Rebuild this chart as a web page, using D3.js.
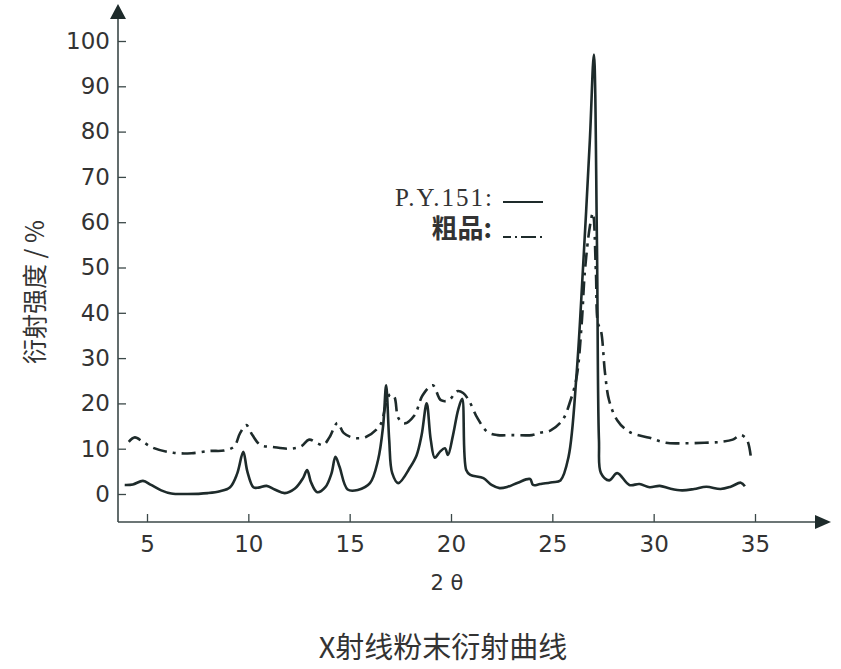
<!DOCTYPE html>
<html>
<head>
<meta charset="utf-8">
<script src="https://cdn.jsdelivr.net/npm/d3@7"></script>
<style>
  body { margin: 0; background: #ffffff; }
  svg text { fill: #333333; }
</style>
</head>
<body>
<div id="chart"></div>
<script>
// x-ray powder diffraction, P.Y.151 vs crude product

var xTicks = [5, 10, 15, 20, 25, 30, 35];
var yTicks = [0, 10, 20, 30, 40, 50, 60, 70, 80, 90, 100];

// P.Y.151 (solid line)
var pyTheta = [3.9, 4.3, 4.8, 5.2, 5.7, 6.2, 7.0, 8.0, 8.6, 9.1, 9.45, 9.75, 9.95, 10.25, 10.5, 10.9, 11.3, 11.8,
    12.3, 12.7, 12.9, 13.1, 13.4, 13.8, 14.1, 14.3, 14.5, 14.9, 15.4, 16.0, 16.4, 16.65, 16.8, 16.95, 17.1, 17.4,
    18.0, 18.3, 18.55, 18.8, 19.0, 19.2, 19.45, 19.7, 19.85, 20.1, 20.35, 20.55, 20.75, 20.95, 21.6, 22.0, 22.4,
    22.8, 23.3, 23.9, 24.05, 24.4, 25.0, 25.4, 25.8, 26.2, 26.5, 26.85, 27.05, 27.2, 27.3, 27.4, 27.8, 28.2, 28.8,
    29.3, 29.8, 30.3, 30.8, 31.4, 32.0, 32.6, 33.3, 33.8, 34.3, 34.5];
var pyIntensity = [2.0, 2.1, 2.9, 2.0, 0.8, 0.1, 0.0, 0.2, 0.6, 1.5, 4.5, 9.3, 5.0, 1.5, 1.4, 1.8, 1.0, 0.2,
    1.2, 3.5, 5.3, 2.5, 0.4, 1.5, 4.5, 8.2, 6.0, 1.0, 0.9, 2.4, 7.5, 15.0, 24.0, 12.0, 4.6, 2.4,
    6.0, 8.5, 13.0, 20.0, 12.0, 8.0, 9.3, 10.1, 8.6, 13.0, 18.5, 21.0, 5.3, 4.2, 3.5, 2.0, 1.3,
    1.6, 2.5, 3.3, 2.0, 2.2, 2.6, 3.0, 8.2, 26.7, 48.8, 78.0, 97.0, 56.0, 12.0, 4.6, 3.0, 4.6, 2.0,
    2.2, 1.5, 1.8, 1.2, 0.8, 1.1, 1.6, 1.1, 1.6, 2.5, 1.7];

// crude product (dash-dot line)
var crudeTheta = [4.1, 4.4, 4.8, 5.3, 6.3, 7.2, 8.1, 8.8, 9.3, 9.6, 9.9, 10.2, 10.6, 11.2, 12.0, 12.6, 13.0, 13.4,
    13.7, 14.0, 14.4, 14.7, 15.2, 15.8, 16.5, 16.8, 17.0, 17.2, 17.4, 17.7, 18.2, 18.6, 19.1, 19.5, 19.9, 20.3,
    20.6, 20.9, 21.3, 21.8, 22.3, 23.0, 24.0, 24.4, 24.9, 25.5, 25.9, 26.2, 26.45, 26.6, 26.85, 27.0, 27.15,
    27.25, 27.4, 27.6, 27.8, 28.2, 28.8, 29.8, 30.6, 31.5, 32.5, 33.3, 33.9, 34.3, 34.6, 34.8];
var crudeIntensity = [11.5, 12.5, 11.5, 10.2, 9.1, 9.0, 9.5, 9.6, 10.5, 13.5, 15.2, 13.0, 10.8, 10.4, 10.0, 10.5, 12.0, 11.2,
    10.8, 12.5, 15.7, 13.5, 12.4, 12.6, 15.2, 20.0, 22.0, 21.5, 16.8, 15.6, 17.4, 21.8, 24.0, 20.7, 20.7, 22.7,
    22.3, 20.5, 16.8, 13.7, 13.0, 13.0, 13.0, 13.5, 14.0, 16.3, 20.7, 25.8, 37.7, 48.8, 59.0, 62.0, 49.0,
    37.7, 36.0, 26.7, 20.7, 16.3, 13.7, 12.4, 11.3, 11.2, 11.3, 11.5, 12.0, 13.0, 12.0, 8.0];

var legendLabels = ["P.Y.151:", "粗品:"];

var width = 841;
var height = 669;
var ink = "#1e2b2b";
var axisColor = "#3b4848";

var svg = d3.select("#chart")
    .append("svg")
    .attr("width", width)
    .attr("height", height);

// scales, 5..35 and 0..100 mapped onto the scanned figure
var x = d3.scaleLinear().domain([5, 35]).range([147, 755]);
var y = d3.scaleLinear().domain([0, 100]).range([494, 41]);

var axisY0 = 522;   // horizontal axis line
var axisX0 = 118;   // vertical axis line

// axes with ticks pointing inward
var xAxis = svg.append("g")
    .attr("transform", "translate(0," + axisY0 + ")")
    .call(d3.axisBottom(x).tickValues(xTicks).tickSize(-8).tickPadding(14));

var yAxis = svg.append("g")
    .attr("transform", "translate(" + axisX0 + ",0)")
    .call(d3.axisLeft(y).tickValues(yTicks).tickSize(-8).tickPadding(8));

[xAxis, yAxis].forEach(function (g) {
    g.select(".domain").remove();
    g.selectAll(".tick line").attr("stroke", axisColor).attr("stroke-width", 1.3);
    g.selectAll(".tick text")
        .style("font-family", "'DejaVu Sans', sans-serif")
        .style("font-size", "23px")
        .style("fill", "#333333");
});

// axis lines with arrow heads
svg.append("line")
    .attr("x1", axisX0).attr("y1", axisY0)
    .attr("x2", 817).attr("y2", axisY0)
    .attr("stroke", axisColor).attr("stroke-width", 1.6);
svg.append("path")
    .attr("d", "M815," + (axisY0 - 7) + "L831," + axisY0 + "L815," + (axisY0 + 7) + "Z")
    .attr("fill", ink);

svg.append("line")
    .attr("x1", axisX0).attr("y1", axisY0)
    .attr("x2", axisX0).attr("y2", 17)
    .attr("stroke", axisColor).attr("stroke-width", 1.6);
svg.append("path")
    .attr("d", "M" + (axisX0 - 8) + ",19L" + axisX0 + ",4L" + (axisX0 + 8) + ",19Z")
    .attr("fill", ink);

// curves
var line = d3.line()
    .x(function (d) { return x(d[0]); })
    .y(function (d) { return y(d[1]); })
    .curve(d3.curveCatmullRom.alpha(0.5));

svg.append("path")
    .datum(d3.zip(crudeTheta, crudeIntensity))
    .attr("d", line)
    .attr("fill", "none")
    .attr("stroke", ink)
    .attr("stroke-width", 2.6)
    .attr("stroke-dasharray", "14,6,3,6");

svg.append("path")
    .datum(d3.zip(pyTheta, pyIntensity))
    .attr("d", line)
    .attr("fill", "none")
    .attr("stroke", ink)
    .attr("stroke-width", 2.6)
    .attr("stroke-linejoin", "round");

// legend
svg.append("text")
    .attr("x", 494).attr("y", 206)
    .attr("text-anchor", "end")
    .style("font-family", "'Liberation Serif', 'Times New Roman', serif")
    .style("font-size", "25px")
    .style("letter-spacing", "2px")
    .text(legendLabels[0]);
svg.append("line")
    .attr("x1", 503).attr("y1", 202).attr("x2", 543).attr("y2", 202)
    .attr("stroke", ink).attr("stroke-width", 2.2);

svg.append("text")
    .attr("x", 492).attr("y", 238)
    .attr("text-anchor", "end")
    .style("font-family", "'Noto Sans CJK SC', sans-serif")
    .style("font-size", "26px")
    .style("font-weight", "bold")
    .text(legendLabels[1]);
svg.append("line")
    .attr("x1", 503).attr("y1", 237).attr("x2", 543).attr("y2", 237)
    .attr("stroke", ink).attr("stroke-width", 2.2)
    .attr("stroke-dasharray", "8,4,2,4,15,4,2");

// axis titles
svg.append("text")
    .attr("x", 447).attr("y", 590)
    .attr("text-anchor", "middle")
    .style("font-family", "'DejaVu Sans', sans-serif")
    .style("font-size", "21px")
    .text("2 θ");

svg.append("text")
    .attr("transform", "translate(35,292) rotate(-90)")
    .attr("dy", "0.36em")
    .attr("text-anchor", "middle")
    .style("font-family", "'Noto Sans CJK SC', sans-serif")
    .style("font-size", "25px")
    .text("衍射强度 / %");

svg.append("text")
    .attr("x", 443).attr("y", 658)
    .attr("text-anchor", "middle")
    .style("font-family", "'Noto Sans CJK SC', sans-serif")
    .style("font-size", "29px")
    .text("X射线粉末衍射曲线");
</script>
</body>
</html>
